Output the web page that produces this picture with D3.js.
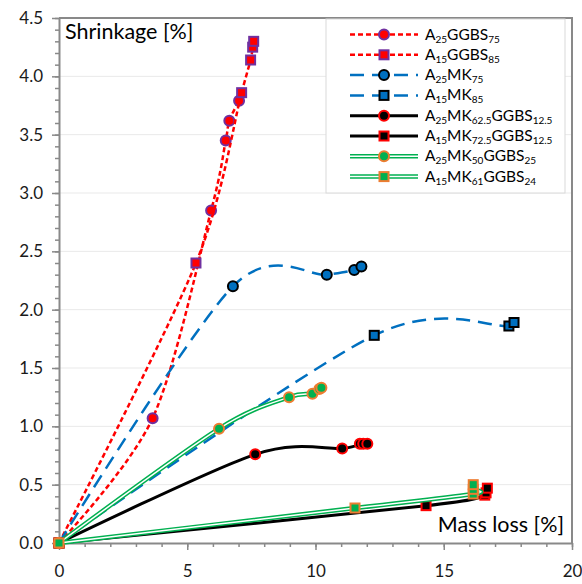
<!DOCTYPE html>
<html>
<head>
<meta charset="utf-8">
<script src="https://cdn.jsdelivr.net/npm/d3@7"></script>
<style>
  html, body { margin: 0; padding: 0; background: #fff; }
  svg { display: block; font-family: Lato, "Open Sans", sans-serif; }
</style>
</head>
<body>
<svg id="chart" width="582" height="584"></svg>
<script>
// Axis ticks
const xTicks = [0, 5, 10, 15, 20];
const yTicks = [0, 0.5, 1, 1.5, 2, 2.5, 3, 3.5, 4, 4.5];

// Legend labels; text inside braces is set as subscript
const legendLabels = [
  "A{25}GGBS{75}",
  "A{15}GGBS{85}",
  "A{25}MK{75}",
  "A{15}MK{85}",
  "A{25}MK{62.5}GGBS{12.5}",
  "A{15}MK{72.5}GGBS{12.5}",
  "A{25}MK{50}GGBS{25}",
  "A{15}MK{61}GGBS{24}"
];

// Mass loss [%] (x) and shrinkage [%] (y) for each mix
const a25ggbs75_x = [0, 3.65, 5.93, 6.50, 6.64, 7.02];
const a25ggbs75_y = [0, 1.07, 2.85, 3.45, 3.62, 3.79];

const a15ggbs85_x = [0, 5.34, 7.12, 7.47, 7.55, 7.59];
const a15ggbs85_y = [0, 2.40, 3.86, 4.14, 4.25, 4.30];

const a25mk75_x = [0, 6.78, 10.44, 11.51, 11.79];
const a25mk75_y = [0, 2.20, 2.30, 2.34, 2.37];

const a15mk85_x = [0, 12.29, 17.54, 17.74];
const a15mk85_y = [0, 1.78, 1.86, 1.89];

const a25mk625_x = [0, 7.65, 11.04, 11.73, 11.86, 12.02];
const a25mk625_y = [0, 0.76, 0.81, 0.85, 0.85, 0.85];

const a15mk725_x = [0, 14.31, 16.60, 16.65, 16.70];
const a15mk725_y = [0, 0.32, 0.41, 0.43, 0.47];

const a25mk50_x = [0, 6.24, 8.97, 9.88, 10.15, 10.23];
const a25mk50_y = [0, 0.98, 1.25, 1.28, 1.32, 1.33];

const a15mk61_x = [0, 11.54, 16.15, 16.15, 16.15];
const a15mk61_y = [0, 0.30, 0.42, 0.46, 0.50];

// Line and marker styles per series
const RED = "#FF0000", PURPLE = "#7030A0", BLUE = "#0070C0",
      GREEN = "#00B050", ORANGE = "#ED7D31", BLACK = "#000000";

const styles = [
  { line: "dash", color: RED, marker: "circle", fill: RED, stroke: PURPLE },
  { line: "dash", color: RED, marker: "square", fill: RED, stroke: PURPLE },
  { line: "long", color: BLUE, marker: "circle", fill: BLUE, stroke: BLACK },
  { line: "long", color: BLUE, marker: "square", fill: BLUE, stroke: BLACK },
  { line: "solid", color: BLACK, marker: "circle", fill: BLACK, stroke: RED },
  { line: "solid", color: BLACK, marker: "square", fill: BLACK, stroke: RED },
  { line: "double", color: GREEN, marker: "circle", fill: GREEN, stroke: ORANGE },
  { line: "double", color: GREEN, marker: "square", fill: GREEN, stroke: ORANGE }
];

const xs = [a25ggbs75_x, a15ggbs85_x, a25mk75_x, a15mk85_x, a25mk625_x, a15mk725_x, a25mk50_x, a15mk61_x];
const ys = [a25ggbs75_y, a15ggbs85_y, a25mk75_y, a15mk85_y, a25mk625_y, a15mk725_y, a25mk50_y, a15mk61_y];

const series = legendLabels.map((label, i) => ({
  label,
  style: styles[i],
  points: xs[i].map((v, j) => ({ x: v, y: ys[i][j] }))
}));

const svg = d3.select("#chart");
const AXIS = "#898989";

const x = d3.scaleLinear().domain([0, 20]).range([59, 572]);
const y = d3.scaleLinear().domain([0, 4.5]).range([543, 18]);

// Horizontal gridlines
svg.append("g").selectAll("line")
  .data(yTicks.filter(d => d > 0 && d < 4.5))
  .join("line")
  .attr("x1", x(0)).attr("x2", x(20))
  .attr("y1", d => y(d)).attr("y2", d => y(d))
  .attr("stroke", "#e9e9e9").attr("stroke-width", 1);

// Plot frame: top and right edges
svg.append("path")
  .attr("d", `M${x(0)},${y(4.5)}H${x(20)}V${y(0)}`)
  .attr("fill", "none").attr("stroke", AXIS).attr("stroke-width", 2);

// Minor ticks
const yMinor = d3.range(0, 46).map(i => i / 10);
const xMinor = d3.range(0, 21);

svg.append("g")
  .attr("transform", `translate(${x(0)},0)`)
  .call(d3.axisLeft(y).tickValues(yMinor).tickSize(4).tickSizeOuter(0).tickFormat(""))
  .call(g => g.select(".domain").remove())
  .call(g => g.selectAll("line").attr("stroke", AXIS).attr("stroke-width", 1.5));

svg.append("g")
  .attr("transform", `translate(0,${y(0)})`)
  .call(d3.axisBottom(x).tickValues(xMinor).tickSize(4).tickSizeOuter(0).tickFormat(""))
  .call(g => g.select(".domain").remove())
  .call(g => g.selectAll("line").attr("stroke", AXIS).attr("stroke-width", 1.5));

// Major axes
svg.append("g")
  .attr("transform", `translate(${x(0)},0)`)
  .call(d3.axisLeft(y).tickValues(yTicks).tickSize(7).tickSizeOuter(0).tickPadding(9)
    .tickFormat(d3.format(".1f")))
  .call(g => g.select(".domain").attr("stroke", AXIS).attr("stroke-width", 2))
  .call(g => g.selectAll("line").attr("stroke", AXIS).attr("stroke-width", 1.5))
  .call(g => g.selectAll("text").attr("font-size", 17).attr("fill", "#1a1a1a")
    .attr("font-family", "Lato, sans-serif"));

svg.append("g")
  .attr("transform", `translate(0,${y(0)})`)
  .call(d3.axisBottom(x).tickValues(xTicks).tickSize(7).tickSizeOuter(0).tickPadding(15)
    .tickFormat(d3.format("d")))
  .call(g => g.select(".domain").attr("stroke", AXIS).attr("stroke-width", 2))
  .call(g => g.selectAll("line").attr("stroke", AXIS).attr("stroke-width", 1.5))
  .call(g => g.selectAll("text").attr("font-size", 17).attr("fill", "#1a1a1a")
    .attr("font-family", "Lato, sans-serif"));

// Axis titles inside the plot
svg.append("text")
  .attr("x", 65).attr("y", 39)
  .attr("font-size", 21.5).attr("fill", "#000")
  .text("Shrinkage [%]");

svg.append("text")
  .attr("x", 564).attr("y", 532)
  .attr("text-anchor", "end")
  .attr("font-size", 21.5).attr("fill", "#000")
  .text("Mass loss [%]");

// Smoothed series lines
const line = d3.line()
  .x(d => x(d.x)).y(d => y(d.y))
  .curve(d3.curveCardinal.tension(0.1));

function strokeLine(sel, st) {
  if (st.line === "dash") {
    sel.attr("stroke", st.color).attr("stroke-width", 2.5).attr("stroke-dasharray", "5,3");
  } else if (st.line === "long") {
    sel.attr("stroke", st.color).attr("stroke-width", 2.5).attr("stroke-dasharray", "14,8");
  } else if (st.line === "solid") {
    sel.attr("stroke", st.color).attr("stroke-width", 3);
  } else {
    sel.attr("stroke", st.color).attr("stroke-width", 4.5);
  }
}

function drawLine(g, pathD, st) {
  strokeLine(g.append("path").attr("d", pathD).attr("fill", "none"), st);
  if (st.line === "double") {
    g.append("path").attr("d", pathD).attr("fill", "none")
      .attr("stroke", "#fff").attr("stroke-width", 1.5);
  }
}

function drawMarker(g, cx, cy, st) {
  if (st.marker === "circle") {
    g.append("circle").attr("cx", cx).attr("cy", cy).attr("r", 5)
      .attr("fill", st.fill).attr("stroke", st.stroke).attr("stroke-width", 2);
  } else {
    g.append("rect").attr("x", cx - 4.5).attr("y", cy - 4.5)
      .attr("width", 9).attr("height", 9)
      .attr("fill", st.fill).attr("stroke", st.stroke).attr("stroke-width", 2);
  }
}

const plot = svg.append("g");
series.forEach(s => {
  const g = plot.append("g");
  drawLine(g, line(s.points), s.style);
  s.points.forEach(p => drawMarker(g, x(p.x), y(p.y), s.style));
});

// Legend
const legend = svg.append("g");
legend.append("rect")
  .attr("x", 326).attr("y", 19).attr("width", 239).attr("height", 174)
  .attr("fill", "#fff").attr("stroke", "#d9d9d9").attr("stroke-width", 1);

series.forEach((s, i) => {
  const ly = 34.5 + i * 20.3;
  const g = legend.append("g");
  drawLine(g, `M350,${ly}H418`, s.style);
  drawMarker(g, 384, ly, s.style);

  const t = g.append("text")
    .attr("x", 425).attr("y", ly + 5)
    .attr("font-size", 15.5).attr("fill", "#000");
  // Subscript parts are lowered; the following part is raised back
  let lowered = false;
  s.label.split(/(\{[^}]*\})/).filter(p => p.length).forEach(part => {
    if (part.startsWith("{")) {
      t.append("tspan").attr("font-size", 10).attr("dy", 3).text(part.slice(1, -1));
      lowered = true;
    } else {
      t.append("tspan").attr("dy", lowered ? -3 : 0).text(part);
      lowered = false;
    }
  });
});
</script>
</body>
</html>
